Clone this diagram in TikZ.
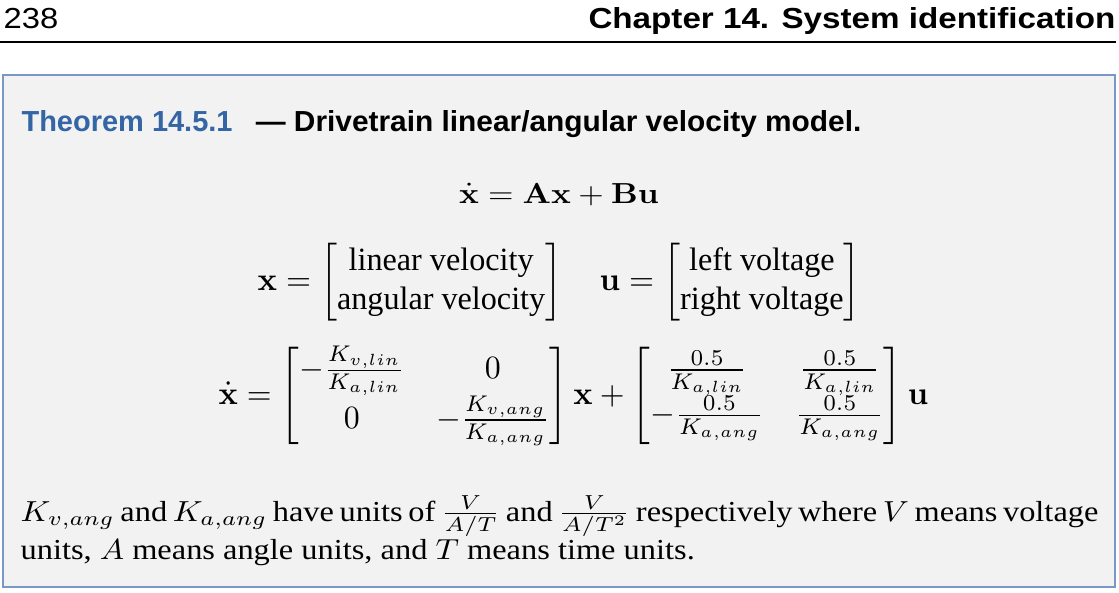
\documentclass[tikz,border=0pt]{standalone}
\usepackage{amsmath}
\usepackage{amssymb}
\usepackage[no-math]{fontspec}
\setmainfont{Liberation Serif}
\setsansfont{Liberation Sans}
\definecolor{thmblue}{RGB}{52,101,164}
\definecolor{thmframe}{RGB}{122,152,198}
\definecolor{thmback}{RGB}{242,242,242}

\begin{document}
\begin{tikzpicture}[x=0.345pt, y=-0.345pt,
    head/.style={inner sep=0pt, font=\sffamily},
    eq/.style={inner sep=0pt},
    wide/.style={xscale=#1, transform shape},
    tall/.style 2 args={xscale=#1, yscale=#2, transform shape}]
    \useasboundingbox (0,0) rectangle (1119,592);

    % running head
    \node[head, wide=1.13, anchor=base west] (pagenum) at (3,28) {238};
    \node[head, wide=1.145, font=\sffamily\bfseries, anchor=base east] (chaptitle) at (1116,28) {Chapter 14. System identification};
    \draw[line width=0.75pt] (0,42) -- (1116,42);

    % theorem box
    \draw[thmframe, fill=thmback, line width=0.6pt] (3,75) rectangle (1115,587);
    \node[head, font=\sffamily\bfseries, text=thmblue, anchor=base west] (thmnum) at (21,131) {Theorem 14.5.1};
    \node[head, wide=1.03, font=\sffamily\bfseries, anchor=base west] (thmtitle) at ([xshift=7.6pt]thmnum.base east) {— Drivetrain linear/angular velocity model.};

    \node[eq, wide=1.13, anchor=base] (stateeq) at (559,203) {$\dot{\mathbf{x}} = \mathbf{A}\mathbf{x} + \mathbf{B}\mathbf{u}$};
    \node[eq, tall={1.11}{1.12}, anchor=base west] (vecdef) at (257,290) {$\mathbf{x} = \begin{bmatrix}\text{linear velocity}\\ \text{angular velocity}\end{bmatrix} \quad \mathbf{u} = \begin{bmatrix}\text{left voltage}\\ \text{right voltage}\end{bmatrix}$};
    \node[eq, tall={1.1}{1.12}, anchor=base west] (dyneq) at (218,404) {$\displaystyle\dot{\mathbf{x}} = \begin{bmatrix} -\frac{K_{v,lin}}{K_{a,lin}} & 0 \\ 0 & -\frac{K_{v,ang}}{K_{a,ang}} \end{bmatrix}\mathbf{x} + \begin{bmatrix} \frac{0.5}{K_{a,lin}} & \frac{0.5}{K_{a,lin}} \\ -\frac{0.5}{K_{a,ang}} & \frac{0.5}{K_{a,ang}} \end{bmatrix}\mathbf{u}$};

    \node[eq, wide=1.118, anchor=base west, text width=332.6pt, align=justify] (unitnote) at (20,521) {$K_{v,ang}$ and $K_{a,ang}$ have units of $\frac{V}{A/T}$ and $\frac{V}{A/T^2}$ respectively where $V$ means voltage\linebreak units, $A$ means angle units, and $T$ means time units.};
\end{tikzpicture}
\end{document}
